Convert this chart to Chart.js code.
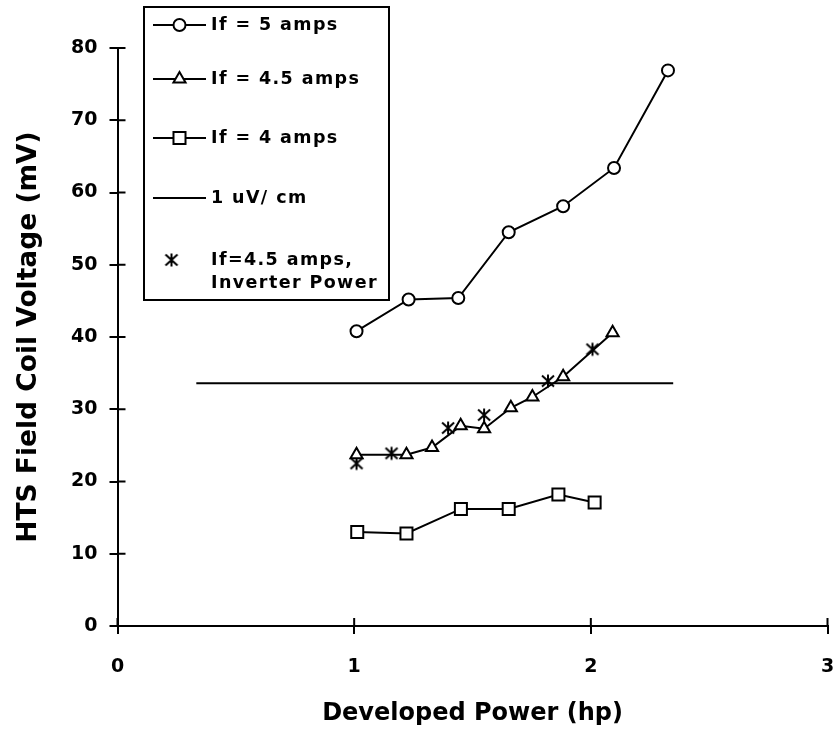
<!DOCTYPE html>
<html lang="en">

<head>
  <meta charset="UTF-8" />
  <title>HTS Field Coil Voltage</title>
  <script src="https://cdn.jsdelivr.net/npm/chart.js"></script>
  <style>
    body { margin: 0; background: #fff; }
    #wrap { width: 838px; height: 738px; }
  </style>
</head>

<body>
  <div id="wrap"><canvas id="myChart"></canvas></div>
  <script>
    // tick values
    const xTickValues = [0, 1, 2, 3];
    const yTickValues = [0, 10, 20, 30, 40, 50, 60, 70, 80];

    // If = 5 amps
    const if5X = [1.01, 1.23, 1.44, 1.653, 1.883, 2.098, 2.326];
    const if5Y = [40.8, 45.2, 45.4, 54.5, 58.1, 63.4, 76.9];
    // If = 4.5 amps
    const if45X = [1.01, 1.221, 1.329, 1.45, 1.549, 1.662, 1.753, 1.883, 2.092];
    const if45Y = [23.7, 23.7, 24.7, 27.7, 27.3, 30.2, 31.7, 34.5, 40.6];
    // If = 4 amps
    const if4X = [1.013, 1.221, 1.451, 1.653, 1.863, 2.016];
    const if4Y = [13.0, 12.8, 16.2, 16.2, 18.2, 17.1];
    // 1 uV/cm
    const limitX = [0.333, 2.348];
    const limitY = [33.6, 33.6];
    // If=4.5 amps, Inverter Power
    const invX = [1.01, 1.158, 1.397, 1.549, 1.819, 2.007];
    const invY = [22.5, 23.9, 27.4, 29.2, 33.9, 38.3];

    const legendLabels = ["If = 5 amps", "If = 4.5 amps", "If = 4 amps", "1 uV/ cm", "If=4.5 amps,", "Inverter Power"];

    const FONT = "'DejaVu Sans', 'Liberation Sans', Arial, sans-serif";

    function toPoints(xs, ys) {
      return xs.map((x, i) => ({ x: x, y: ys[i] }));
    }

    // asterisk marker (vertical + X)
    const star = document.createElement("canvas");
    star.width = 16;
    star.height = 16;
    (function () {
      const c = star.getContext("2d");
      c.strokeStyle = "#000";
      c.lineWidth = 2;
      c.beginPath();
      c.moveTo(8, 1.5); c.lineTo(8, 14.5);
      c.moveTo(2, 2.5); c.lineTo(14, 13.5);
      c.moveTo(14, 2.5); c.lineTo(2, 13.5);
      c.stroke();
    })();

    // ticks crossing the axes
    const crossTicks = {
      id: "crossTicks",
      afterDraw(chart) {
        const { ctx, scales: { x, y } } = chart;
        ctx.save();
        ctx.strokeStyle = "#000";
        ctx.lineWidth = 2;
        ctx.beginPath();
        x.ticks.forEach((t) => {
          const px = x.getPixelForValue(t.value);
          ctx.moveTo(px, y.bottom);
          ctx.lineTo(px, y.bottom - 8);
        });
        y.ticks.forEach((t) => {
          const py = y.getPixelForValue(t.value);
          ctx.moveTo(x.left, py);
          ctx.lineTo(x.left + 8, py);
        });
        ctx.stroke();
        ctx.restore();
      },
    };

    // legend box
    const legendBox = {
      id: "legendBox",
      afterDraw(chart) {
        const ctx = chart.ctx;
        const ds = chart.data.datasets;
        ctx.save();
        ctx.fillStyle = "#fff";
        ctx.fillRect(144, 7, 245, 293);
        ctx.strokeStyle = "#000";
        ctx.lineWidth = 2;
        ctx.strokeRect(144, 7, 245, 293);

        const rows = [25, 79, 138, 198, 260];
        const mx = 179.5;
        for (let i = 0; i < 4; i++) {
          ctx.strokeStyle = "#000";
          ctx.lineWidth = 2;
          ctx.beginPath();
          ctx.moveTo(153, rows[i]);
          ctx.lineTo(206, rows[i]);
          ctx.stroke();
          if (ds[i].pointRadius > 0) {
            ctx.fillStyle = "#fff";
            Chart.helpers.drawPoint(ctx, {
              pointStyle: ds[i].pointStyle,
              radius: ds[i].pointRadius,
              borderWidth: 2,
              rotation: 0,
            }, mx, rows[i]);
          }
        }
        ctx.drawImage(star, 171.5 - 8, rows[4] - 8);

        ctx.fillStyle = "#000";
        ctx.font = "bold 17.5px " + FONT;
        ctx.letterSpacing = "1.4px";
        ctx.textBaseline = "middle";
        ctx.textAlign = "left";
        for (let i = 0; i < 5; i++) {
          ctx.fillText(legendLabels[i], 211, rows[i]);
        }
        ctx.fillText(legendLabels[5], 211, rows[4] + 23);
        ctx.restore();
      },
    };

    const ctx01 = document.getElementById("myChart");
    const mychart = new Chart(ctx01, {
      type: "scatter",
      data: {
        datasets: [
          {
            label: legendLabels[0],
            data: toPoints(if5X, if5Y),
            showLine: true,
            borderColor: "#000",
            borderWidth: 2,
            pointStyle: "circle",
            pointRadius: 6,
            pointBorderWidth: 2,
            pointBackgroundColor: "#fff",
            pointBorderColor: "#000",
          },
          {
            label: legendLabels[1],
            data: toPoints(if45X, if45Y),
            showLine: true,
            borderColor: "#000",
            borderWidth: 2,
            pointStyle: "triangle",
            pointRadius: 7,
            pointBorderWidth: 2,
            pointBackgroundColor: "#fff",
            pointBorderColor: "#000",
          },
          {
            label: legendLabels[2],
            data: toPoints(if4X, if4Y),
            showLine: true,
            borderColor: "#000",
            borderWidth: 2,
            pointStyle: "rect",
            pointRadius: 8.5,
            pointBorderWidth: 2,
            pointBackgroundColor: "#fff",
            pointBorderColor: "#000",
          },
          {
            label: legendLabels[3],
            data: toPoints(limitX, limitY),
            showLine: true,
            borderColor: "#000",
            borderWidth: 2,
            pointRadius: 0,
          },
          {
            label: legendLabels[4] + " " + legendLabels[5],
            data: toPoints(invX, invY),
            showLine: false,
            pointStyle: star,
            pointRadius: 8,
          },
        ],
      },
      options: {
        responsive: true,
        maintainAspectRatio: false,
        animation: false,
        layout: {
          padding: { left: 13, right: 10, top: 48, bottom: 10 },
        },
        plugins: {
          legend: { display: false },
          tooltip: { enabled: false },
        },
        scales: {
          x: {
            type: "linear",
            min: 0,
            max: 3,
            afterBuildTicks: (scale) => {
              scale.ticks = xTickValues.map((v) => ({ value: v }));
            },
            afterFit: (scale) => {
              scale.height = 102;
              scale.paddingLeft = 0;
              scale.paddingRight = 0;
            },
            grid: {
              drawOnChartArea: false,
              drawTicks: true,
              tickLength: 8,
              color: "#000",
              lineWidth: 2,
            },
            border: { color: "#000", width: 2 },
            ticks: {
              color: "#000",
              padding: 22,
              maxRotation: 0,
              font: { family: FONT, size: 19, weight: "bold" },
            },
            title: {
              display: true,
              text: "Developed Power (hp)",
              color: "#000",
              padding: 0,
              font: { family: FONT, size: 24, weight: "bold" },
            },
          },
          y: {
            type: "linear",
            min: 0,
            max: 80,
            afterBuildTicks: (scale) => {
              scale.ticks = yTickValues.map((v) => ({ value: v }));
            },
            afterFit: (scale) => {
              scale.width = 104.5;
              scale.paddingTop = 0;
              scale.paddingBottom = 0;
            },
            grid: {
              drawOnChartArea: false,
              drawTicks: true,
              tickLength: 8,
              color: "#000",
              lineWidth: 2,
            },
            border: { color: "#000", width: 2 },
            ticks: {
              color: "#000",
              padding: 12,
              font: { family: FONT, size: 19, weight: "bold" },
            },
            title: {
              display: true,
              text: "HTS Field Coil Voltage (mV)",
              color: "#000",
              padding: 0,
              font: { family: FONT, size: 26.5, weight: "bold" },
            },
          },
        },
      },
      plugins: [crossTicks, legendBox],
    });
  </script>
</body>

</html>
